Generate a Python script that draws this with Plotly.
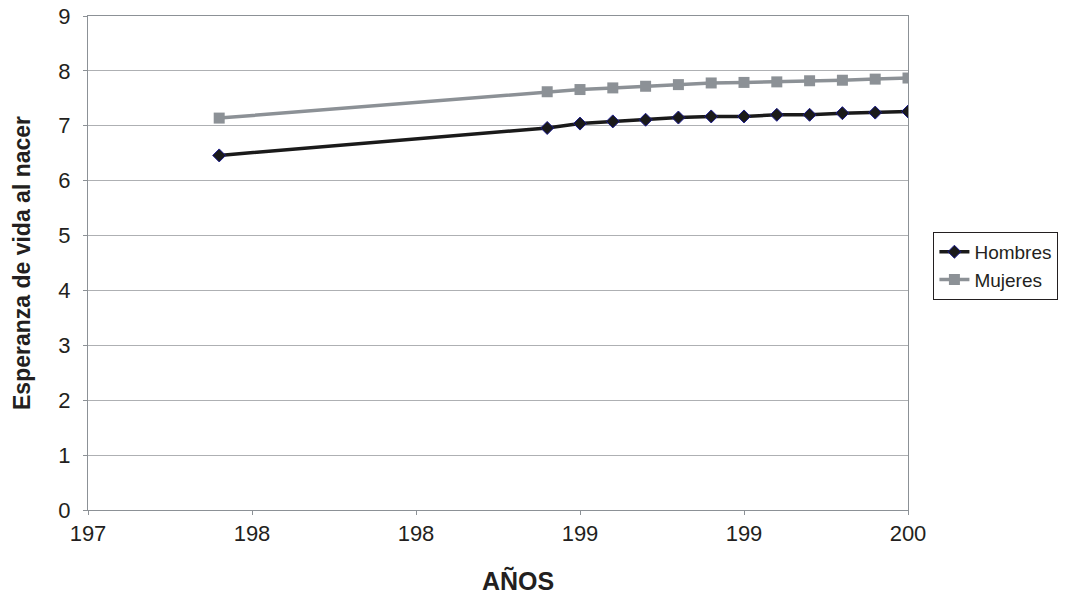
import plotly.graph_objects as go

years = [1979, 1989, 1990, 1991, 1992, 1993, 1994, 1995, 1996, 1997, 1998, 1999, 2000]
hombres = [6.46, 6.96, 7.04, 7.08, 7.11, 7.15, 7.17, 7.17, 7.20, 7.20, 7.23, 7.24, 7.26]
mujeres = [7.14, 7.62, 7.66, 7.69, 7.72, 7.75, 7.78, 7.79, 7.80, 7.82, 7.83, 7.85, 7.87]

x_tickvals = [1975, 1980, 1985, 1990, 1995, 2000]
x_ticktext = ["197", "198", "198", "199", "199", "200"]
y_tickvals = [0, 1, 2, 3, 4, 5, 6, 7, 8, 9]
y_ticktext = ["0", "1", "2", "3", "4", "5", "6", "7", "8", "9"]

FONT = "Liberation Sans, Arial, sans-serif"

fig = go.Figure()
fig.add_trace(go.Scatter(
    x=years, y=hombres, name="Hombres", mode="lines+markers",
    line=dict(color="#1a1a1a", width=3.5),
    marker=dict(symbol="diamond", size=10, color="#1a1a1a",
                line=dict(color="#1c1c8c", width=1)),
))
fig.add_trace(go.Scatter(
    x=years, y=mujeres, name="Mujeres", mode="lines+markers",
    line=dict(color="#8c9196", width=3.5),
    marker=dict(symbol="square", size=11, color="#8c9196"),
))

fig.update_layout(
    width=1068, height=598,
    margin=dict(l=88, r=160, t=16, b=88, autoexpand=False),
    paper_bgcolor="white", plot_bgcolor="white",
    font=dict(family=FONT, color="#231f20", size=22),
    showlegend=True,
    legend=dict(
        x=1.031, y=0.563, xanchor="left", yanchor="top",
        bordercolor="#231f20", borderwidth=1,
        font=dict(size=19, family=FONT, color="#231f20"),
        tracegroupgap=0, itemwidth=30,
    ),
    xaxis=dict(
        range=[1975, 2000], tickvals=x_tickvals, ticktext=x_ticktext,
        showgrid=False, zeroline=False, automargin=False,
        showline=True, linecolor="#8c9196", linewidth=1, mirror=True,
        ticks="outside", ticklen=4, tickcolor="#8c9196",
        tickfont=dict(size=22),
    ),
    yaxis=dict(
        range=[0, 9], tickvals=y_tickvals, ticktext=y_ticktext,
        showgrid=True, gridcolor="#aeb0b3", gridwidth=1, zeroline=False,
        automargin=False,
        showline=True, linecolor="#8c9196", linewidth=1, mirror=True,
        ticks="outside", ticklen=4, tickcolor="#8c9196",
        ticklabelstandoff=8,
        tickfont=dict(size=22),
    ),
    annotations=[
        dict(text="<b>AÑOS</b>", xref="paper", yref="paper",
             x=(518 - 88) / 820, y=-(580 - 510) / 494,
             xanchor="center", yanchor="middle", showarrow=False,
             font=dict(size=25, family=FONT, color="#231f20")),
        dict(text="<b>Esperanza de vida al nacer</b>", xref="paper", yref="paper",
             x=-(88 - 22) / 820, y=0.5, textangle=-90,
             xanchor="center", yanchor="middle", showarrow=False,
             font=dict(size=23, family=FONT, color="#231f20")),
    ],
)

fig.write_html("out.html")
